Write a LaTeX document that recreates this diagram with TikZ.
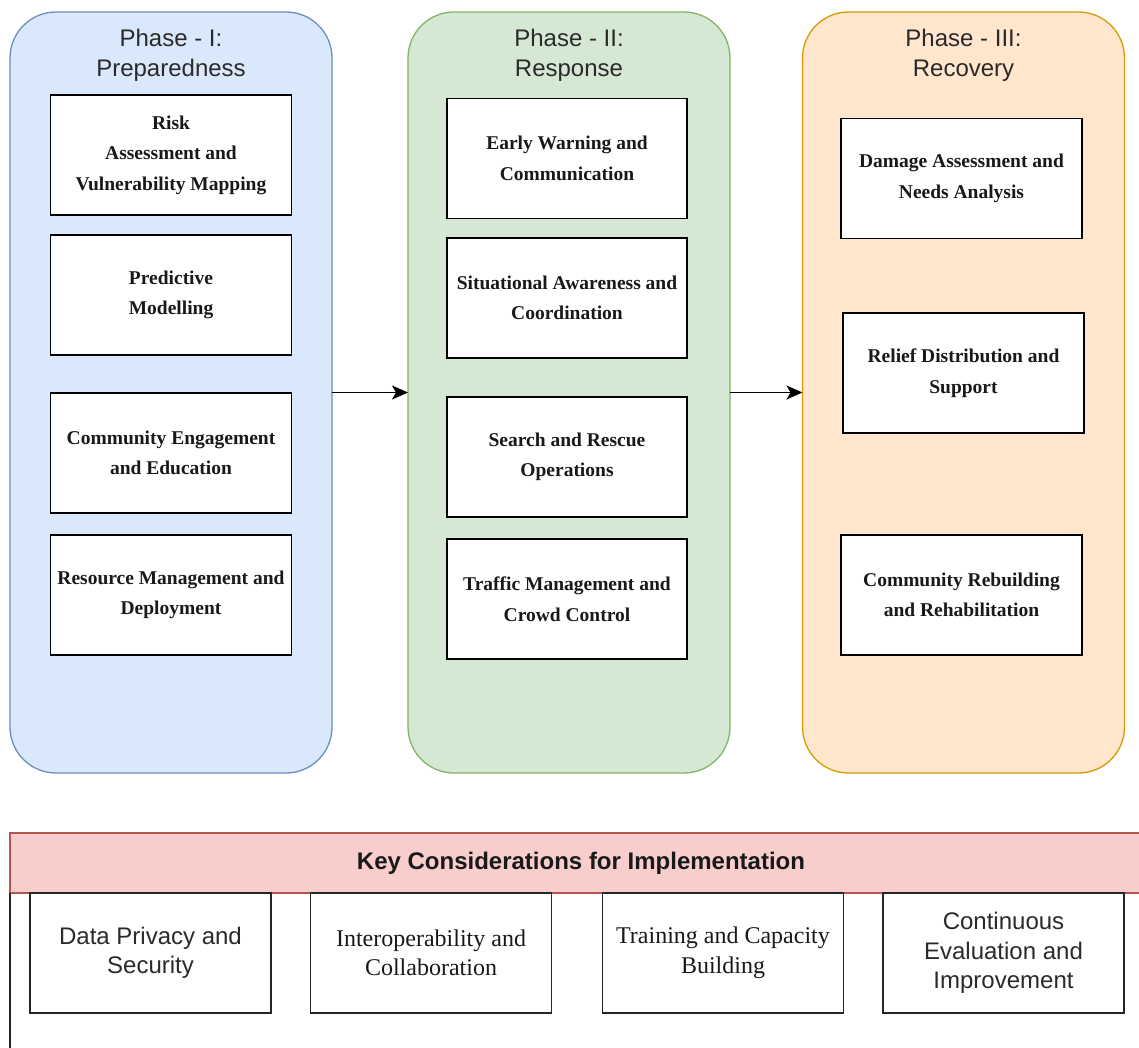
\documentclass[tikz,border=0pt]{standalone}
\usepackage{fontspec}
\setmainfont{Liberation Serif}
\setsansfont{Liberation Sans}
\usetikzlibrary{arrows.meta}
\definecolor{bfill}{HTML}{DAE8FC}\definecolor{bdraw}{HTML}{6C8EBF}
\definecolor{gfill}{HTML}{D5E8D4}\definecolor{gdraw}{HTML}{82B366}
\definecolor{ofill}{HTML}{FFE6CC}\definecolor{odraw}{HTML}{D79B00}
\definecolor{rfill}{HTML}{F8CECC}\definecolor{rdraw}{HTML}{B85450}
\definecolor{txtgrey}{HTML}{2A2A2A}
\tikzset{
  phasebox/.style={rectangle, rounded corners=46pt, line width=1.3pt, minimum width=322pt, minimum height=761pt, inner sep=0pt, outer sep=0pt},
  phasetitle/.style={font=\sffamily\fontsize{24}{30}\selectfont, text=txtgrey, align=center, inner sep=0pt},
  itembox/.style={rectangle, draw=black, fill=white, line width=1.5pt, minimum width=241pt, minimum height=120pt, inner sep=0pt, outer sep=0pt, align=center, font=\rmfamily\bfseries\fontsize{19.5}{30.5}\selectfont, text=black!90},
  considbox/.style={rectangle, draw=black!85, fill=white, line width=1.6pt, minimum width=241pt, minimum height=120pt, inner sep=0pt, outer sep=0pt, align=center},
  sanstxt/.style={font=\sffamily\fontsize{24}{29.5}\selectfont, text=txtgrey},
  seriftxt/.style={font=\rmfamily\fontsize{24}{29.5}\selectfont, text=black!90},
  flow/.style={line width=1.6pt, -{Stealth[length=16pt,width=14pt,inset=4pt]}}
}
\begin{document}
\begin{tikzpicture}[x=1pt,y=-1pt]
\useasboundingbox (0,0) rectangle (1139,1048);
\clip (0,0) rectangle (1139,1048);
\fill[white] (0,0) rectangle (1139,1048);

% phase containers
\node[phasebox, fill=bfill, draw=bdraw] (p1) at (171,392.5) {};
\node[phasebox, fill=gfill, draw=gdraw] (p2) at (569,392.5) {};
\node[phasebox, fill=ofill, draw=odraw] (p3) at (963.5,392.5) {};

\node[phasetitle] (t1) at (171,55) {Phase - I:\\Preparedness};
\node[phasetitle] (t2) at (569,55) {Phase - II:\\Response};
\node[phasetitle] (t3) at (963.5,55) {Phase - III:\\Recovery};

% phase I items
\node[itembox] (a1) at (171,155) {Risk\\Assessment and\\Vulnerability Mapping};
\node[itembox] (a2) at (171,295) {Predictive\\Modelling};
\node[itembox] (a3) at (171,453) {Community Engagement\\and Education};
\node[itembox] (a4) at (171,595) {Resource Management and\\Deployment};

% phase II items
\node[itembox, minimum width=240pt] (b1) at (567,158.5) {Early Warning and\\Communication};
\node[itembox, minimum width=240pt] (b2) at (567,298) {Situational Awareness and\\Coordination};
\node[itembox, minimum width=240pt] (b3) at (567,457) {Search and Rescue\\Operations};
\node[itembox, minimum width=240pt] (b4) at (567,599) {Traffic Management and\\Crowd Control};

% phase III items
\node[itembox] (c1) at (961.5,178.5) {Damage Assessment and\\Needs Analysis};
\node[itembox] (c2) at (963.5,373) {Relief Distribution and\\Support};
\node[itembox] (c3) at (961.5,595) {Community Rebuilding\\and Rehabilitation};

% arrows between phases
\draw[flow] (p1.east) -- (p2.west);
\draw[flow] (p2.east) -- (p3.west);

% key considerations band
\node[rectangle, fill=rfill, draw=rdraw, line width=1.2pt, minimum width=1142pt, minimum height=60pt, inner sep=0pt, outer sep=0pt, font=\sffamily\bfseries\fontsize{24}{28}\selectfont, text=black!90] (band) at (581,863) {Key Considerations for Implementation};

\coordinate (lineend) at (10,1050);
\draw[line width=1.5pt, black!85] (band.south west) -- (lineend);

\node[considbox, sanstxt] (k1) at (150.5,953) {Data Privacy and\\Security};
\node[considbox, seriftxt] (k2) at (431,953) {Interoperability and\\Collaboration};
\node[considbox, seriftxt] (k3) at (723,953) {Training and Capacity\\Building};
\node[considbox, sanstxt] (k4) at (1003.5,953) {Continuous\\Evaluation and\\Improvement};
\end{tikzpicture}
\end{document}
